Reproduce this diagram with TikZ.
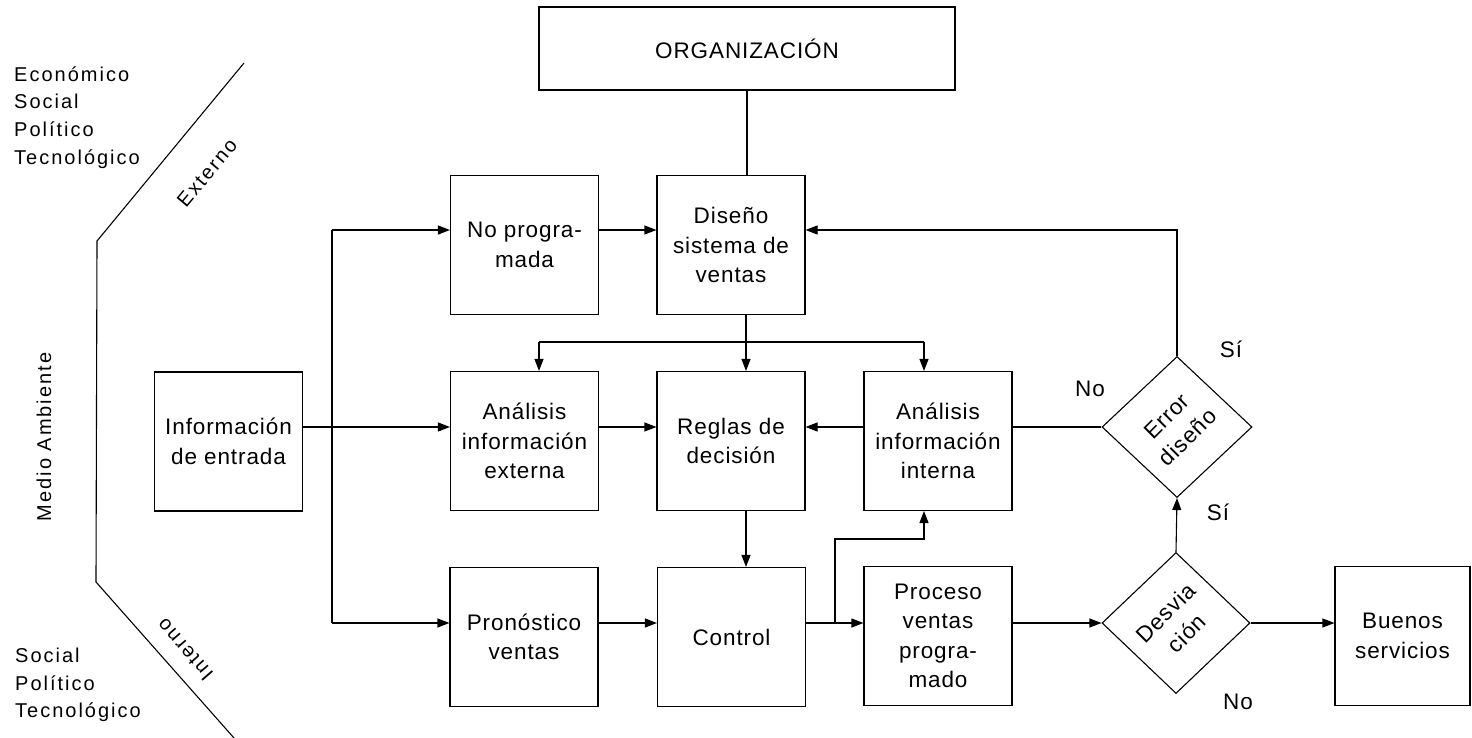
\documentclass[tikz,border=0pt]{standalone}
\usepackage{fontspec}
\setmainfont{Liberation Sans}[LetterSpace=4]
\newfontfamily\sidefont{Liberation Sans}[LetterSpace=10]
\usetikzlibrary{shapes.geometric,arrows.meta}

\begin{document}
\begin{tikzpicture}[x=1pt,y=1pt,
  every node/.style={font=\fontsize{22.5}{29.5}\selectfont},
  box/.style={draw, line width=1.1pt, minimum width=148pt, minimum height=139pt,
              align=center, inner sep=0pt},
  decision/.style={draw, diamond, line width=1.1pt, minimum width=150pt,
                   minimum height=141pt, inner sep=0pt},
  sidetext/.style={font=\sidefont\fontsize{20}{27.7}\selectfont, align=left, inner sep=0pt},
  lbl/.style={inner sep=0pt},
  link/.style={draw, line width=1.1pt},
  flow/.style={draw, line width=1.1pt, -{Triangle[length=12pt,width=9pt]}}
]
\useasboundingbox (0,0) rectangle (1472,-738);

% boxes of the flow
\node[box, minimum width=416pt, minimum height=83pt] (org) at (747,-48.5) {ORGANIZACIÓN};
\node[box] (noprog)  at (524.5,-245) {No progra-\\mada};
\node[box] (diseno)  at (731,-245)   {Diseño\\sistema de\\ventas};
\node[box] (entrada) at (228.5,-441.5) {Información\\de entrada};
\node[box] (ext)     at (524.5,-441) {Análisis\\información\\externa};
\node[box] (reglas)  at (731,-441)   {Reglas de\\decisión};
\node[box] (interna) at (938,-441)   {Análisis\\información\\interna};
\node[box] (prono)   at (524,-637)   {Pronóstico\\ventas};
\node[box] (control) at (731.5,-637) {Control};
\node[box] (proceso) at (938,-636)   {Proceso\\ventas\\progra-\\mado};
\node[box, minimum width=135pt] (buenos) at (1402.5,-636) {Buenos\\servicios};

% decisions
\node[decision] (error) at (1177,-427) {};
\node[decision, minimum width=148pt] (desv) at (1176,-623) {};
\node[rotate=45, align=center] (errortxt) at (error.center) {Error\\diseño};
\node[rotate=45, align=center] (desvtxt) at (desv.center) {Desvia\\ción};

% branch labels
\node[lbl] (no1) at (1090,-389) {No};
\node[lbl] (si1) at (1231,-349) {Sí};
\node[lbl] (si2) at (1218,-512) {Sí};
\node[lbl] (no2) at (1238,-702) {No};

% routing helpers
\coordinate (toprow) at (0,-230);
\coordinate (midrow) at (0,-427);
\coordinate (botrow) at (0,-623);
\coordinate (bus) at (332,0);
\coordinate (axis) at (746,0);
\coordinate (dl) at (539,-342);
\coordinate (dr) at (924,-342);
\coordinate (br) at (835,-539);

% connectors
\draw[link] (org.south) -- (org.south |- diseno.north);
\draw[link] (entrada.east |- midrow) -- (bus |- midrow);
\draw[link] (bus |- toprow) -- (bus |- botrow);
\draw[flow] (bus |- toprow) -- (noprog.west |- toprow);
\draw[flow] (bus |- midrow) -- (ext.west |- midrow);
\draw[flow] (bus |- botrow) -- (prono.west |- botrow);
\draw[flow] (noprog.east |- toprow) -- (diseno.west |- toprow);
\draw[flow] (diseno.south -| axis) -- (reglas.north -| axis);
\draw[link] (dl) -- (dr);
\draw[flow] (dl) -- (dl |- ext.north);
\draw[flow] (dr) -- (dr |- interna.north);
\draw[flow] (ext.east |- midrow) -- (reglas.west |- midrow);
\draw[flow] (interna.west |- midrow) -- (reglas.east |- midrow);
\draw[flow] (reglas.south -| axis) -- (control.north -| axis);
\draw[flow] (prono.east |- botrow) -- (control.west |- botrow);
\draw[flow] (control.east |- botrow) -- (proceso.west |- botrow);
\draw[flow] (br |- botrow) -- (br) -- (dr |- br) -- (dr |- interna.south);
\draw[flow] (proceso.east |- desv.west) -- (desv.west);
\draw[flow] (desv.east) -- (buenos.west |- desv.east);
\draw[flow] (desv.north) -- (error.south);
\draw[link] (error.west) -- (interna.east |- error.west);
\draw[flow] (error.north) -- (error.north |- toprow) -- (diseno.east |- toprow);

% environment boundary
\coordinate (e1) at (244,-63);
\coordinate (e2) at (97,-241);
\coordinate (e3) at (96,-582);
\coordinate (e4) at (234,-738);
\draw[link] (e1) -- (e2) -- (e3) -- (e4);

\node[sidetext, anchor=west] (exttxt) at (14,-117.5) {Económico\\Social\\Político\\Tecnológico};
\node[sidetext, anchor=west] (inttxt) at (15,-685) {Social\\Político\\Tecnológico};
\node[sidetext, rotate=90] (medio) at (44,-437) {Medio Ambiente};
\node[sidetext, rotate=50] (externo) at (207,-173) {Externo};
\node[sidetext, rotate=131] (interno) at (185,-650) {Interno};
\end{tikzpicture}
\end{document}
